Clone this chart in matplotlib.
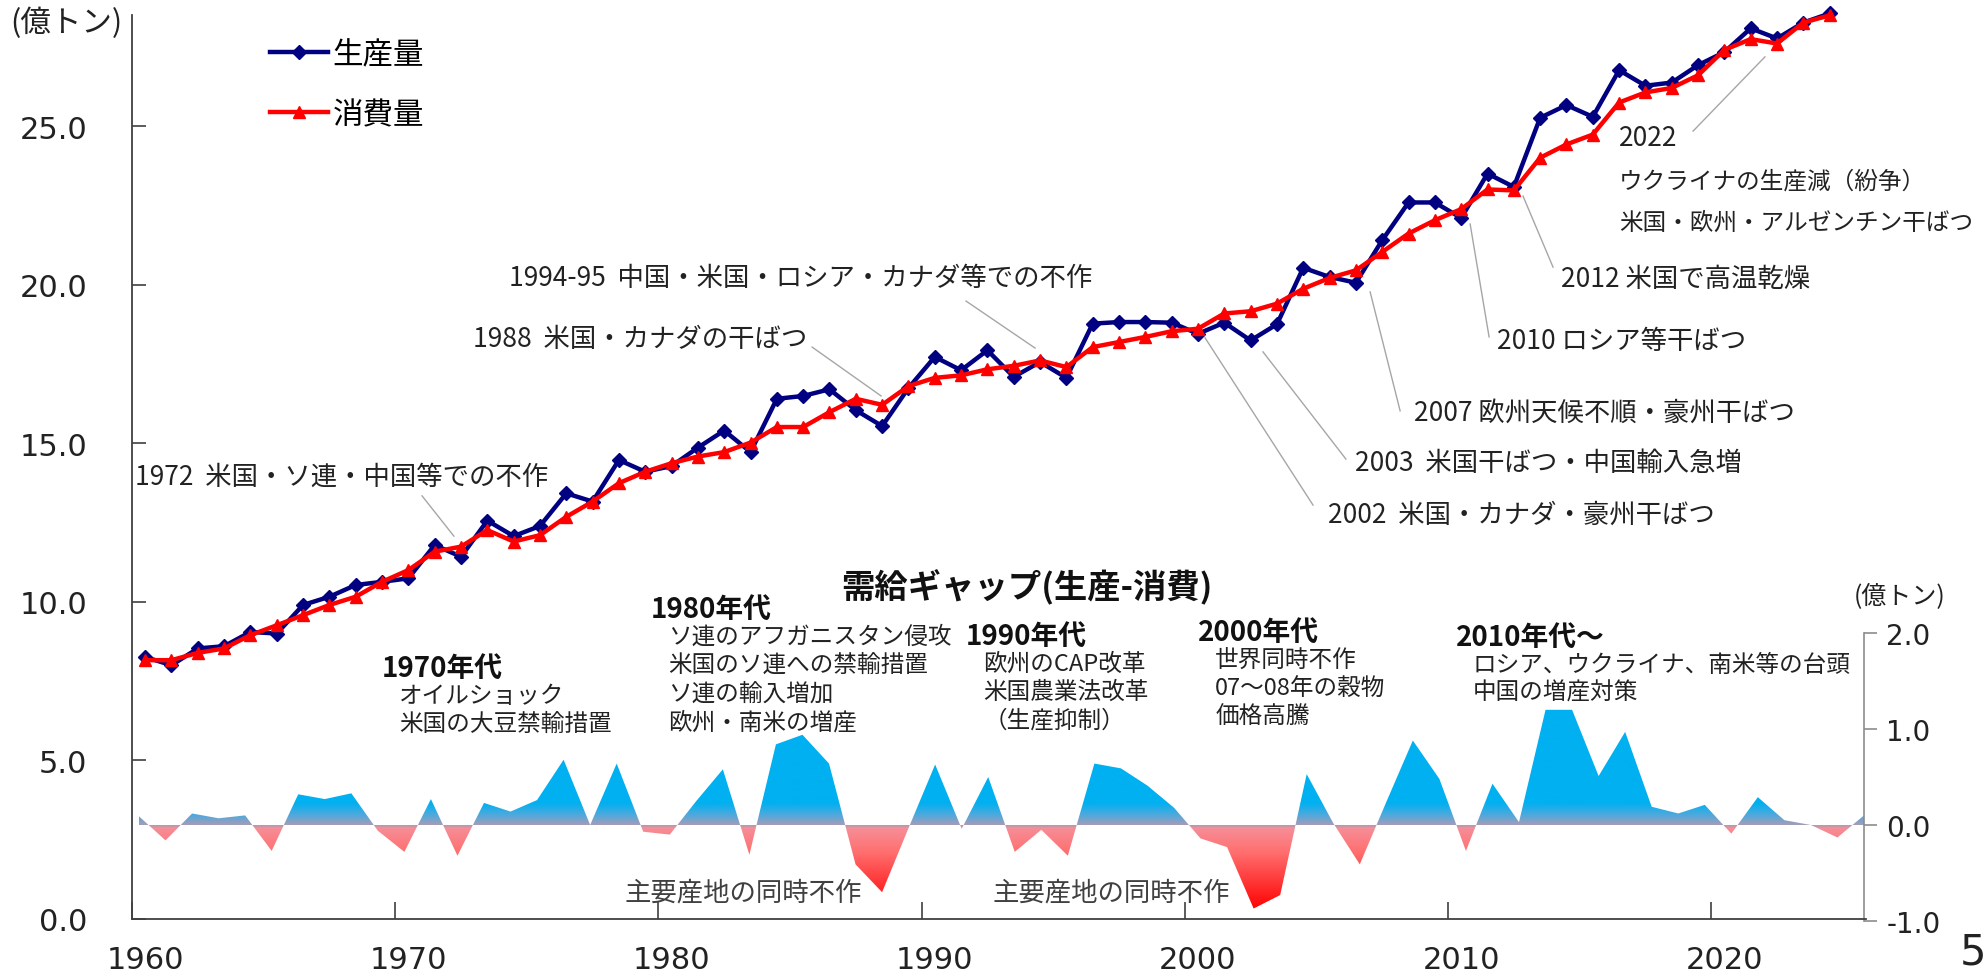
import numpy as np
import matplotlib
matplotlib.use('Agg')
import matplotlib.pyplot as plt
import matplotlib.transforms as mtransforms
from matplotlib.colors import LinearSegmentedColormap
from matplotlib.patches import PathPatch
from matplotlib.ticker import FormatStrFormatter

plt.rcParams['font.family'] = ['Noto Sans CJK JP', 'DejaVu Sans']

# 世界の穀物 生産量・消費量（億トン）
years = np.arange(1960, 2025)
production = [8.26, 8.00, 8.53, 8.60, 9.05, 9.00, 9.90, 10.16, 10.53, 10.63,
              10.74, 11.79, 11.42, 12.56, 12.07, 12.39, 13.42, 13.16, 14.47, 14.10,
              14.28, 14.86, 15.40, 14.72, 16.40, 16.49, 16.70, 16.04, 15.54, 16.74,
              17.72, 17.30, 17.93, 17.09, 17.56, 17.06, 18.77, 18.82, 18.82, 18.80,
              18.45, 18.80, 18.24, 18.75, 20.53, 20.24, 20.06, 21.40, 22.59, 22.59,
              22.10, 23.50, 23.08, 25.26, 25.66, 25.29, 26.76, 26.27, 26.37, 26.92,
              27.33, 28.08, 27.76, 28.26, 28.55]
consumption = [8.16, 8.16, 8.39, 8.53, 8.95, 9.26, 9.58, 9.90, 10.16, 10.63,
               11.00, 11.58, 11.74, 12.26, 11.90, 12.10, 12.68, 13.16, 13.74, 14.10,
               14.37, 14.58, 14.72, 15.02, 15.51, 15.51, 15.98, 16.40, 16.21, 16.80,
               17.06, 17.14, 17.33, 17.44, 17.61, 17.40, 18.03, 18.19, 18.35, 18.53,
               18.61, 19.09, 19.16, 19.40, 19.87, 20.21, 20.45, 21.03, 21.61, 22.03,
               22.38, 23.00, 22.97, 24.00, 24.42, 24.73, 25.74, 26.06, 26.20, 26.60,
               27.40, 27.74, 27.60, 28.26, 28.49]

# 需給ギャップ（生産-消費、億トン）
gap_years = np.arange(1960, 2026)
gap = [0.09, -0.16, 0.12, 0.07, 0.10, -0.27, 0.32, 0.27, 0.33, -0.06,
       -0.28, 0.27, -0.32, 0.23, 0.14, 0.26, 0.68, 0.00, 0.64, -0.07,
       -0.10, 0.25, 0.58, -0.31, 0.84, 0.94, 0.64, -0.41, -0.70, -0.03,
       0.63, -0.04, 0.50, -0.28, -0.05, -0.32, 0.64, 0.59, 0.41, 0.18,
       -0.14, -0.23, -0.87, -0.73, 0.53, 0.02, -0.41, 0.24, 0.88, 0.48,
       -0.27, 0.43, 0.03, 1.20, 1.20, 0.51, 0.97, 0.19, 0.12, 0.21,
       -0.09, 0.29, 0.05, 0.00, -0.13, 0.10]

events = [
    ('1972  米国・ソ連・中国等での不作', (1960.1, 13.97), (1971.02, 13.34), (1972.23, 12.07)),
    ('1988  米国・カナダの干ばつ', (1972.96, 18.29), (1985.84, 18.03), (1988.46, 16.49)),
    ('1994-95  中国・米国・ロシア・カナダ等での不作', (1974.32, 20.24), (1991.69, 19.48), (1994.31, 18.0)),
    ('2002  米国・カナダ・豪州干ばつ', (2005.44, 12.77), (2000.77, 18.32), (2004.87, 13.05)),
    ('2003  米国干ばつ・中国輸入急増', (2006.47, 14.41), (2002.97, 17.88), (2006.12, 14.5)),
    ('2007 欧州天候不順・豪州干ばつ', (2008.71, 15.98), (2007.04, 19.77), (2008.18, 16.02)),
    ('2010 ロシア等干ばつ', (2011.86, 18.25), (2010.84, 21.91), (2011.56, 18.35)),
    ('2012 米国で高温乾燥', (2014.29, 20.18), (2012.85, 22.79), (2013.99, 20.55)),
]

decades = [
    ('1970年代', ['オイルショック', '米国の大豆禁輸措置'], (1969.5, 7.91)),
    ('1980年代', ['ソ連のアフガニスタン侵攻', '米国のソ連への禁輸措置', 'ソ連の輸入増加', '欧州・南米の増産'], (1979.72, 9.77)),
    ('1990年代', ['欧州のCAP改革', '米国農業法改革', '（生産抑制）'], (1991.69, 8.92)),
    ('2000年代', ['世界同時不作', '07～08年の穀物', '価格高騰'], (2000.5, 9.05)),
    ('2010年代～', ['ロシア、ウクライナ、南米等の台頭', '中国の増産対策'], (2010.3, 8.89)),
]

W, H = 1985, 978
TXT = '#222222'
fig = plt.figure(figsize=(W / 100, H / 100), dpi=100)


def px_rect(l, r, t, b):
    return [l / W, 1 - b / H, (r - l) / W, (b - t) / H]


# --- 需給ギャップ（下段の面グラフ） ---
axg = fig.add_axes(px_rect(139, 1864, 634, 922))
axg.patch.set_visible(False)
cmap = LinearSegmentedColormap.from_list('gap', [
    (0.0, '#FF0000'), (0.05, '#FF0808'), (0.24, '#FF7070'), (0.322, '#F68E98'),
    (0.3333, '#A49CB8'), (0.37, '#4AA9DE'), (0.41, '#00B0F0'), (1.0, '#00B0F0')])
poly = axg.fill_between(gap_years, gap, 0, facecolor='none', edgecolor='none')
clip = PathPatch(poly.get_paths()[0], transform=axg.transData, facecolor='none', edgecolor='none')
axg.add_patch(clip)
im = axg.imshow(np.linspace(0, 1, 400).reshape(-1, 1), cmap=cmap, aspect='auto',
                extent=[1960, 2025, -1, 2], origin='lower', interpolation='bilinear')
im.set_clip_path(clip)
axg.set_xlim(1960, 2025)
axg.set_ylim(-1, 2)
for s in ['left', 'top', 'bottom']:
    axg.spines[s].set_visible(False)
axg.spines['right'].set_color('#8C8C8C')
axg.spines['right'].set_linewidth(1.2)
axg.yaxis.tick_right()
axg.set_yticks([-1, 0, 1, 2])
axg.yaxis.set_major_formatter(FormatStrFormatter('%.1f'))
axg.tick_params(axis='y', direction='out', length=9, width=1.2, color='#8C8C8C',
                labelsize=20, pad=7, labelcolor=TXT, labelfontfamily='DejaVu Sans')
axg.set_xticks([])

# --- 生産量・消費量 ---
ax = fig.add_axes(px_rect(132, 1866, 16, 920))
ax.patch.set_visible(False)
ax.plot(years + 0.5, production, color='#000080', lw=3.2, marker='D', ms=7,
        label='生産量', clip_on=False, zorder=3)
ax.plot(years + 0.5, consumption, color='#FF0000', lw=3.2, marker='^', ms=9,
        label='消費量', clip_on=False, zorder=4)
ax.set_xlim(1960, 2025.88)
ax.set_ylim(0, 28.5)
ax.set_yticks(np.arange(0, 26, 5))
ax.yaxis.set_major_formatter(FormatStrFormatter('%.1f'))
ax.set_xticks(np.arange(1960, 2021, 10))
ax.tick_params(axis='y', direction='in', length=10, width=1.2, color='#404040',
               labelsize=22, pad=32, labelcolor=TXT, labelfontfamily='DejaVu Sans')
ax.tick_params(axis='x', direction='in', length=12, width=1.2, color='#404040',
               labelsize=22, pad=19, labelcolor=TXT, labelfontfamily='DejaVu Sans')
for s in ['top', 'right']:
    ax.spines[s].set_visible(False)
for s in ['left', 'bottom']:
    ax.spines[s].set_color('#404040')
    ax.spines[s].set_linewidth(1.3)
off = mtransforms.ScaledTranslation(0.13, 0, fig.dpi_scale_trans)
for lab in ax.get_xticklabels():
    lab.set_transform(lab.get_transform() + off)

ax.legend(loc='upper left', bbox_to_anchor=(270 / W, 1 - 40 / H), bbox_transform=fig.transFigure,
          frameon=False, fontsize=22, handlelength=1.9, handletextpad=0.15,
          labelspacing=0.95, borderpad=0, borderaxespad=0, numpoints=1)

# 出来事の注記
for text, pos, p0, p1 in events:
    ax.text(pos[0], pos[1], text, fontsize=19, color=TXT, va='center', ha='left')
    ax.plot([p0[0], p1[0]], [p0[1], p1[1]], color='#A6A6A6', lw=1, zorder=2)

ax.text(2016.5, 24.65, '2022', fontsize=19, color=TXT, va='center')
ax.text(2016.5, 23.27, 'ウクライナの生産減（紛争）', fontsize=17, color=TXT, va='center')
ax.text(2016.5, 21.97, '米国・欧州・アルゼンチン干ばつ', fontsize=17, color=TXT, va='center')
ax.plot([2022.04, 2019.31], [27.18, 24.84], color='#A6A6A6', lw=1, zorder=2)

ax.text(1986.94, 10.47, '需給ギャップ(生産-消費)', fontsize=24, fontweight='bold',
        color='#111111', va='center')

for head, lines, (x0, y0) in decades:
    ax.text(x0, y0, head, fontsize=20, fontweight='bold', color='#111111', va='center')
    for i, line in enumerate(lines):
        ax.text(x0 + 0.65, y0 - 0.85 - 0.9 * i, line, fontsize=17, color=TXT, va='center')

for x0 in [1978.73, 1992.71]:
    ax.text(x0, 0.85, '主要産地の同時不作', fontsize=19, color='#404040', va='center')

fig.text(66 / W, 1 - 23 / H, '(億トン)', fontsize=22, color=TXT, ha='center', va='center')
fig.text(1900 / W, 1 - 597 / H, '(億トン)', fontsize=18, color=TXT, ha='center', va='center')
fig.text(1960 / W, 1 - 953 / H, '5', fontsize=30, color=TXT, ha='left', va='center',
         family='DejaVu Sans')

fig.savefig('out.png', dpi=100)
